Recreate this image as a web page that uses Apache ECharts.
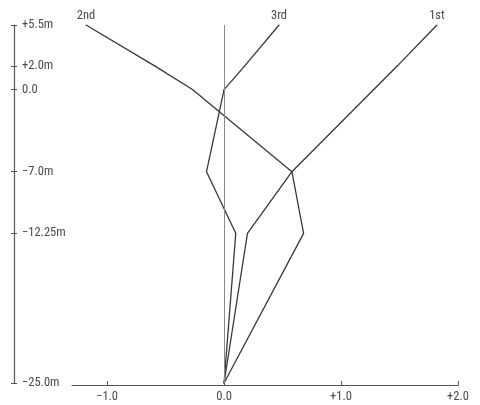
<!DOCTYPE html>
<html>
<head>
<meta charset="utf-8">
<script src="https://cdn.jsdelivr.net/npm/echarts@6/dist/echarts.min.js"></script>
<style>
  html, body { margin: 0; padding: 0; background: #fff; }
  #chart { width: 480px; height: 405px; }
</style>
</head>
<body>
<div id="chart"></div>
<script>
// Elevations of the nodes (m), top to bottom
const elevations = [5.5, 2.0, 0.0, -7.0, -12.25, -25.0];
const elevationLabels = ['+5.5m', '+2.0m', '0.0', '\u22127.0m', '\u221212.25m', '\u221225.0m'];

// Normalised mode-shape displacements at each elevation
const modeNames = ['1st', '2nd', '3rd'];
const mode1 = [1.82, 1.48, 1.28, 0.58, 0.20, 0.0];
const mode2 = [-1.18, -0.59, -0.27, 0.58, 0.68, 0.0];
const mode3 = [0.47, 0.175, 0.0, -0.15, 0.10, 0.0];

// Horizontal axis ticks
const xTickValues = [-1, 0, 1, 2];
const xTickLabels = ['\u22121.0', '0.0', '+1.0', '+2.0'];

const FONT = '"Roboto Condensed", "DejaVu Sans Condensed", sans-serif';
const FONT_SIZE = 12.5;
const TEXT = '#4a4a4a';
const AXIS = '#555';
const LINE = '#383838';

function modeSeries(name, values) {
  const data = values.map((x, i) => {
    const item = { value: [x, elevations[i]] };
    if (i === 0) {
      item.label = {
        show: true, position: 'top', distance: 2,
        formatter: name, color: TEXT, fontFamily: FONT, fontSize: FONT_SIZE
      };
    }
    return item;
  });
  return {
    name, type: 'line', data, silent: true,
    symbol: 'circle', symbolSize: 1, showSymbol: true,
    itemStyle: { color: LINE },
    label: { show: false },
    lineStyle: { color: LINE, width: 1.3 }, z: 3
  };
}

const chart = echarts.init(document.getElementById('chart'), null, { renderer: 'canvas' });

const yCommon = {
  type: 'value', min: -25, max: 5.5, position: 'left', offset: 58,
  splitLine: { show: false }
};

chart.setOption({
  animation: false,
  backgroundColor: '#fff',
  grid: { left: 72, right: 22, top: 25, bottom: 22, containLabel: false },
  xAxis: {
    type: 'value', min: -1.3, max: 2.0, offset: 2,
    axisLine: { show: true, onZero: false, lineStyle: { color: AXIS, width: 1.2 } },
    axisTick: { show: true, inside: true, length: 4, customValues: xTickValues, lineStyle: { color: AXIS } },
    axisLabel: {
      customValues: xTickValues, margin: 5, color: TEXT, fontFamily: FONT, fontSize: FONT_SIZE,
      formatter: v => xTickLabels[xTickValues.indexOf(v)] ?? ''
    },
    splitLine: { show: false }
  },
  yAxis: [
    Object.assign({}, yCommon, {
      axisLine: { show: true, onZero: false, lineStyle: { color: AXIS, width: 1.2 } },
      axisTick: { show: true, inside: false, length: 3, customValues: elevations, lineStyle: { color: AXIS } },
      axisLabel: {
        inside: true, customValues: elevations, margin: 8, color: TEXT, fontFamily: FONT, fontSize: FONT_SIZE,
        formatter: v => elevationLabels[elevations.indexOf(v)] ?? ''
      }
    }),
    Object.assign({}, yCommon, {
      axisLine: { show: false, onZero: false },
      axisTick: { show: true, inside: true, length: 3, customValues: elevations, lineStyle: { color: AXIS } },
      axisLabel: { show: false }
    })
  ],
  series: [
    modeSeries(modeNames[0], mode1),
    modeSeries(modeNames[1], mode2),
    modeSeries(modeNames[2], mode3),
    {
      name: 'zero', type: 'line', data: [], silent: true,
      markLine: {
        silent: true, symbol: 'none', label: { show: false },
        lineStyle: { color: '#8a8a8a', width: 1, type: 'solid' },
        data: [{ xAxis: 0 }]
      }
    }
  ]
});
</script>
</body>
</html>
